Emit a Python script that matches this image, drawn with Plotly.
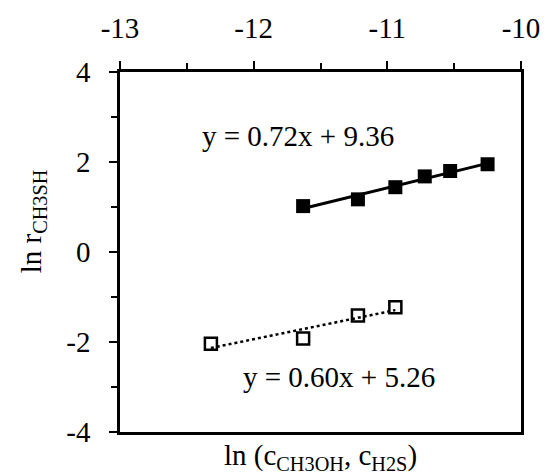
import numpy as np
import plotly.graph_objects as go

# data
x_filled = [-11.63, -11.22, -10.94, -10.72, -10.53, -10.25]
y_filled = [1.02, 1.17, 1.44, 1.68, 1.80, 1.95]
x_open = [-12.32, -11.63, -11.22, -10.94]
y_open = [-2.04, -1.92, -1.41, -1.23]
eq_filled = "y = 0.72x + 9.36"
eq_open = "y = 0.60x + 5.26"
x_ticks = [-13, -12, -11, -10]
y_ticks = [-4, -2, 0, 2, 4]

FONT = "Liberation Serif, Times New Roman, serif"
FS = 29

# linear trendlines fitted to the data (as the spreadsheet did)
p1 = np.polyfit(x_filled, y_filled, 1)
p2 = np.polyfit(x_open, y_open, 1)
xf = np.array([min(x_filled), max(x_filled)])
xo = np.array([min(x_open), max(x_open)])

fig = go.Figure()
fig.add_trace(go.Scatter(x=xf, y=np.polyval(p1, xf), mode="lines",
                         line=dict(color="black", width=3), showlegend=False))
fig.add_trace(go.Scatter(x=xo, y=np.polyval(p2, xo), mode="lines",
                         line=dict(color="black", width=2.5, dash="dot"), showlegend=False))
fig.add_trace(go.Scatter(x=x_filled, y=y_filled, mode="markers",
                         marker=dict(symbol="square", size=14, color="black"),
                         showlegend=False))
fig.add_trace(go.Scatter(x=x_open, y=y_open, mode="markers",
                         marker=dict(symbol="square-open", size=12, color="black",
                                     line=dict(width=2.5)),
                         showlegend=False))

fig.add_annotation(x=-11.67, y=2.58, xref="x", yref="y", text=eq_filled,
                   showarrow=False, font=dict(family=FONT, size=FS, color="black"))
fig.add_annotation(x=-11.36, y=-2.78, xref="x", yref="y", text=eq_open,
                   showarrow=False, font=dict(family=FONT, size=FS, color="black"))

# axis titles
fig.add_annotation(x=-0.267, y=0.585, xref="paper", yref="paper",
                   text="ln r<sub>CH3SH</sub>", textangle=-90, showarrow=False,
                   font=dict(family=FONT, size=FS, color="black"))
fig.add_annotation(x=0.5, y=-0.126, xref="paper", yref="paper", yanchor="bottom",
                   text="ln (c<sub>CH3OH</sub>, c<sub>H2S</sub>)", showarrow=False,
                   font=dict(family=FONT, size=FS, color="black"))

fig.update_layout(
    width=552, height=475,
    margin=dict(l=120, r=23, t=66, b=43),
    paper_bgcolor="white", plot_bgcolor="white",
    font=dict(family=FONT, size=FS, color="black"),
    xaxis=dict(side="top", range=[-13, -10], tickvals=x_ticks,
               ticktext=[str(v) for v in x_ticks],
               showgrid=False, zeroline=False, showline=True, mirror=True,
               linecolor="black", linewidth=2.5,
               ticks="outside", ticklen=8, tickwidth=2, tickcolor="black",
               ticklabelstandoff=12,
               minor=dict(dtick=0.5, ticks="outside", ticklen=6, tickwidth=2,
                          tickcolor="black", showgrid=False)),
    yaxis=dict(range=[-4, 4], tickvals=y_ticks,
               ticktext=[str(v) for v in y_ticks],
               showgrid=False, zeroline=False, showline=True, mirror=True,
               linecolor="black", linewidth=2.5,
               ticks="outside", ticklen=8, tickwidth=2, tickcolor="black",
               ticklabelstandoff=13,
               minor=dict(dtick=1, ticks="outside", ticklen=6, tickwidth=2,
                          tickcolor="black", showgrid=False)),
)

fig.write_html("out.html")
